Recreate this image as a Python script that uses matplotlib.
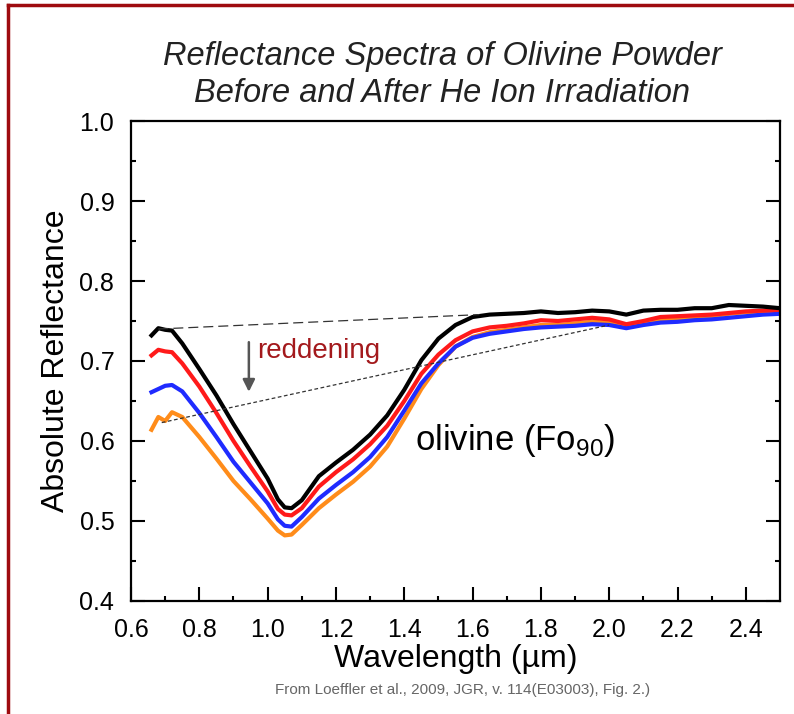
import matplotlib
matplotlib.use("Agg")
import matplotlib.pyplot as plt
from matplotlib.lines import Line2D

# wavelength grid (um) and reflectance
wavelength = [0.66, 0.68, 0.70, 0.72, 0.75, 0.80, 0.85, 0.90, 0.95, 1.00,
              1.03, 1.05, 1.07, 1.10, 1.15, 1.20, 1.25, 1.30, 1.35, 1.40,
              1.45, 1.50, 1.55, 1.60, 1.65, 1.70, 1.75, 1.80, 1.85, 1.90,
              1.95, 2.00, 2.05, 2.10, 2.15, 2.20, 2.25, 2.30, 2.35, 2.40,
              2.45, 2.50]

refl_black = [0.732, 0.741, 0.739, 0.738, 0.722, 0.690, 0.657, 0.621, 0.587, 0.553,
              0.527, 0.517, 0.516, 0.526, 0.556, 0.573, 0.589, 0.608, 0.632, 0.664,
              0.701, 0.728, 0.745, 0.755, 0.758, 0.759, 0.760, 0.762, 0.760, 0.761,
              0.763, 0.762, 0.758, 0.763, 0.764, 0.764, 0.766, 0.766, 0.770, 0.769,
              0.768, 0.766]
refl_red = [0.707, 0.714, 0.712, 0.711, 0.697, 0.668, 0.635, 0.600, 0.568, 0.537,
            0.515, 0.508, 0.507, 0.516, 0.543, 0.561, 0.577, 0.596, 0.619, 0.650,
            0.684, 0.708, 0.726, 0.737, 0.742, 0.744, 0.747, 0.751, 0.750, 0.752,
            0.754, 0.752, 0.746, 0.750, 0.755, 0.756, 0.757, 0.758, 0.760, 0.762,
            0.763, 0.764]
refl_blue = [0.661, 0.665, 0.669, 0.670, 0.662, 0.635, 0.605, 0.574, 0.548, 0.522,
             0.502, 0.494, 0.493, 0.505, 0.528, 0.545, 0.561, 0.580, 0.605, 0.638,
             0.672, 0.697, 0.718, 0.729, 0.734, 0.737, 0.740, 0.742, 0.743, 0.744,
             0.746, 0.745, 0.741, 0.745, 0.748, 0.749, 0.751, 0.752, 0.754, 0.756,
             0.758, 0.759]
refl_orange = [0.614, 0.630, 0.625, 0.636, 0.630, 0.605, 0.578, 0.550, 0.527, 0.503,
               0.488, 0.482, 0.483, 0.495, 0.516, 0.533, 0.549, 0.568, 0.593, 0.628,
               0.665, 0.695, 0.718, 0.730, 0.736, 0.739, 0.742, 0.745, 0.745, 0.747,
               0.749, 0.748, 0.744, 0.748, 0.752, 0.753, 0.755, 0.756, 0.759, 0.761,
               0.762, 0.764]

# continuum lines
cont_before_x = [0.68, 1.62]
cont_before_y = [0.740, 0.758]
cont_after_x = [0.69, 2.00]
cont_after_y = [0.623, 0.745]

xticks = [0.6, 0.8, 1.0, 1.2, 1.4, 1.6, 1.8, 2.0, 2.2, 2.4]
yticks = [0.4, 0.5, 0.6, 0.7, 0.8, 0.9, 1.0]

plt.rcParams['font.family'] = ['Liberation Sans', 'DejaVu Sans']
plt.rcParams['mathtext.fontset'] = 'custom'
plt.rcParams['mathtext.rm'] = 'Liberation Sans'

fig = plt.figure(figsize=(7.94, 7.14), dpi=100)
ax = fig.add_axes([0.165, 0.1583, 0.8174, 0.6722])

series = [(refl_orange, '#ff8c1a'), (refl_blue, '#1f2bff'),
          (refl_red, '#ff1a1a'), (refl_black, '#000000')]
for vals, col in series:
    ax.plot(wavelength, vals, color=col, linewidth=3.0, solid_joinstyle='round')

ax.plot(cont_before_x, cont_before_y, color='#333333', linewidth=0.9, linestyle=(0, (8, 4)))
ax.plot(cont_after_x, cont_after_y, color='#333333', linewidth=0.9, linestyle=(0, (3, 2)))

ax.annotate('', xy=(0.945, 0.658), xytext=(0.945, 0.727),
            arrowprops=dict(arrowstyle='-|>', color='#555555', lw=1.8, mutation_scale=18))
ax.text(0.97, 0.713, 'reddening', color='#a3191c', fontsize=20, va='center', ha='left')
ax.text(1.43, 0.600, r'olivine (Fo$_{90}$)', color='black', fontsize=25, va='center', ha='left')

ax.set_xlim(0.6, 2.5)
ax.set_ylim(0.4, 1.0)
ax.set_xticks(xticks)
ax.set_xticklabels(['%.1f' % v for v in xticks])
ax.set_yticks(yticks)
ax.set_yticklabels(['%.1f' % v for v in yticks])
ax.set_xticks([0.7, 0.9, 1.1, 1.3, 1.5, 1.7, 1.9, 2.1, 2.3], minor=True)
ax.set_yticks([0.45, 0.55, 0.65, 0.75, 0.85, 0.95], minor=True)
ax.tick_params(which='both', direction='in', top=False, right=True, width=1.5)
ax.tick_params(which='major', length=10, labelsize=18)
ax.tick_params(axis='x', which='major', pad=12)
ax.tick_params(axis='y', which='major', pad=12)
ax.tick_params(which='minor', length=3.5)
for s in ax.spines.values():
    s.set_linewidth(1.6)

ax.set_xlabel('Wavelength (\u00b5m)', fontsize=23, labelpad=2)
ax.set_ylabel('Absolute Reflectance', fontsize=23, labelpad=6)

fig.text(0.557, 0.921, 'Reflectance Spectra of Olivine Powder', fontsize=23.5,
         style='italic', ha='center', va='center', color='#222222')
fig.text(0.557, 0.869, 'Before and After He Ion Irradiation', fontsize=23.5,
         style='italic', ha='center', va='center', color='#222222')
fig.text(0.582, 0.034, 'From Loeffler et al., 2009, JGR, v. 114(E03003), Fig. 2.)',
         fontsize=11, ha='center', va='center', color='#666666')

# dark red frame on top and left
fig.add_artist(Line2D([0.0107, 1.0], [0.9923, 0.9923], color='#9e0b0f', linewidth=2.5))
fig.add_artist(Line2D([0.0107, 0.0107], [0.0, 0.9923], color='#9e0b0f', linewidth=2.5))

fig.savefig('out.png', dpi=100)
